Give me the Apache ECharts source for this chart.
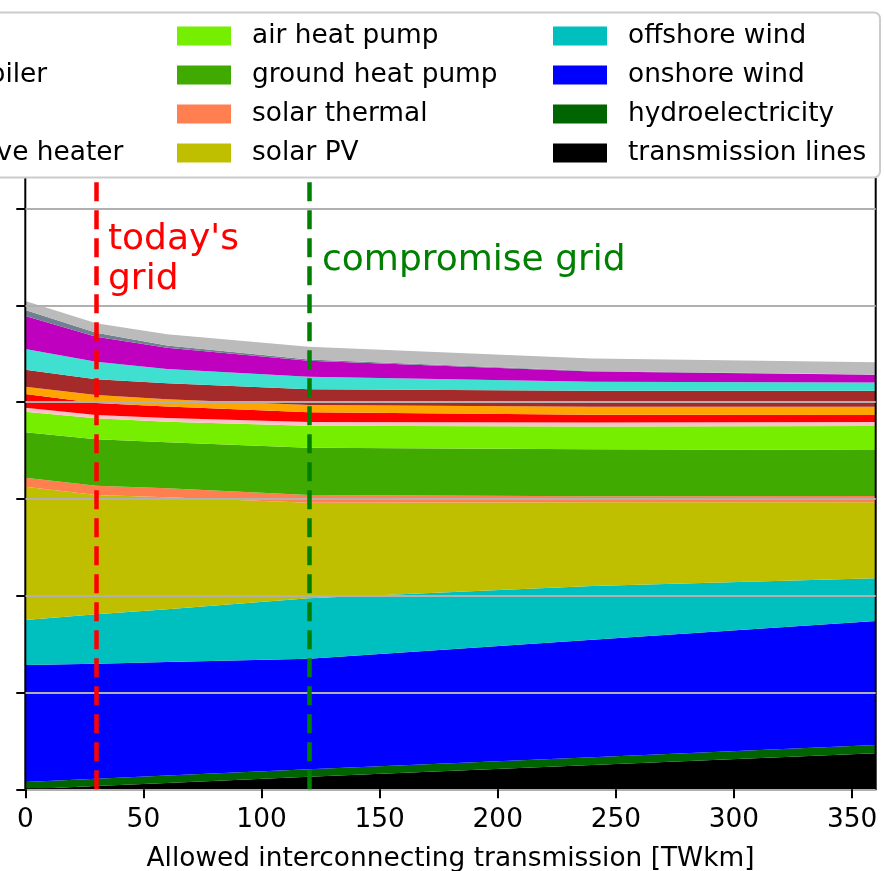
<!DOCTYPE html>
<html>
<head>
<meta charset="utf-8">
<script src="https://cdn.jsdelivr.net/npm/echarts@6/dist/echarts.min.js"></script>
<style>
html, body { margin: 0; padding: 0; background: #fff; }
#chart { width: 884px; height: 871px; }
</style>
</head>
<body>
<div id="chart"></div>
<script>
// Allowed interconnecting transmission [TWkm]
const xValues = [0, 30, 60, 120, 240, 360];
const xTickLabels = [0, 50, 100, 150, 200, 250, 300, 350];

// Stack, bottom to top
const transmissionLines = [0, 3.3, 6.5, 13, 25, 37.2];
const hydroelectricity  = [7.5, 7.6, 7.7, 7.7, 8.2, 8.6];
const onshoreWind       = [120.9, 118.9, 117.3, 114.2, 121.2, 128.1];
const offshoreWind      = [46.5, 51, 54.5, 62.4, 55.6, 44.1];
const solarPV           = [137.6, 123.2, 115.6, 98.7, 86.5, 78.5];
const solarThermal      = [9.4, 9.6, 9.4, 8, 6.3, 6.4];
const groundHeatPump    = [46.9, 48, 47.5, 48.9, 48.4, 47.7];
const airHeatPump       = [21.3, 21.7, 21.3, 22.6, 23.6, 24.7];
const resistiveHeater   = [4.1, 3.4, 3.8, 3.9, 4.1, 4.1];
const chp               = [14.2, 12.3, 11.9, 10.1, 8.1, 7.3];
const gasBoiler         = [7.5, 8.3, 7.5, 7.5, 8.2, 8.4];
const gas               = [17.6, 16.3, 16.4, 16.2, 16.6, 16.7];
const methanation       = [21.4, 18.1, 14.8, 13, 9.2, 8.4];
const hydrogenStorage   = [34, 25.9, 22, 16.4, 10.7, 8.1];
const batteryStorage    = [6.2, 4.1, 2.3, 1.4, 0.5, 0.3];
const waterTanks        = [9.3, 9.7, 11.5, 13.2, 12.8, 12.5];

const todaysGrid = 30;
const compromiseGrid = 120;

const stack = [
  ['transmission lines', transmissionLines, '#000000'],
  ['hydroelectricity', hydroelectricity, '#006400'],
  ['onshore wind', onshoreWind, '#0000FF'],
  ['offshore wind', offshoreWind, '#00BFBF'],
  ['solar PV', solarPV, '#BFBF00'],
  ['solar thermal', solarThermal, '#FF7F50'],
  ['ground heat pump', groundHeatPump, '#40AA00'],
  ['air heat pump', airHeatPump, '#76EE00'],
  ['resistive heater', resistiveHeater, '#FFC0CB'],
  ['CHP', chp, '#FF0000'],
  ['gas boiler', gasBoiler, '#FFA500'],
  ['gas', gas, '#A52A2A'],
  ['methanation', methanation, '#40E0D0'],
  ['hydrogen storage', hydrogenStorage, '#BF00BF'],
  ['battery storage', batteryStorage, '#708090'],
  ['water tanks', waterTanks, '#BBBBBB']
];

const FONT = 'DejaVu Sans';
const FS = 26.4;

// value first, x second, so that the library stacks the value dimension
const series = stack.map(([name, vals, color]) => ({
  name: name,
  type: 'line',
  stack: 'total',
  data: xValues.map((x, i) => [vals[i], x]),
  encode: { x: 1, y: 0 },
  symbol: 'none',
  showSymbol: false,
  smooth: false,
  lineStyle: { width: 0, color: color },
  itemStyle: { color: color },
  areaStyle: { color: color, opacity: 1 },
  z: 2,
  silent: true
}));

series.push({
  name: '_annot',
  type: 'line',
  data: [],
  symbol: 'none',
  z: 6,
  silent: true,
  markLine: {
    silent: true,
    symbol: ['none', 'none'],
    z: 6,
    label: { show: false },
    data: [
      { xAxis: todaysGrid, lineStyle: { color: '#FF0000', width: 4.5, type: [19, 9] } },
      { xAxis: compromiseGrid, lineStyle: { color: '#008000', width: 4.5, type: [19, 9] } }
    ]
  },
  markPoint: {
    silent: true,
    symbol: 'rect',
    symbolSize: [0.01, 0.01],
    itemStyle: { color: 'transparent' },
    z: 6,
    data: [
      { coord: [35, 547], label: { show: true, position: 'right', distance: 0, formatter: "today's\ngrid", color: '#FF0000', fontSize: 36, lineHeight: 40, fontFamily: FONT, align: 'left' } },
      { coord: [125.6, 546], label: { show: true, position: 'right', distance: 0, formatter: 'compromise grid', color: '#008000', fontSize: 36, lineHeight: 40, fontFamily: FONT, align: 'left' } }
    ]
  }
});

function legendCol(left, names) {
  return {
    show: true,
    orient: 'vertical',
    left: left,
    top: 23,
    padding: 0,
    itemGap: 13,
    itemWidth: 54,
    itemHeight: 19,
    icon: 'rect',
    selectedMode: false,
    z: 100,
    data: names,
    textStyle: { fontFamily: FONT, fontSize: FS, color: '#000', padding: [0, 0, 0, 16] }
  };
}

const option = {
  animation: false,
  backgroundColor: '#fff',
  grid: {
    left: 25.3, right: 8.3, top: 111.7, bottom: 81.7,
    containLabel: false,
    outerBoundsMode: 'none',
    show: true,
    borderColor: '#000',
    borderWidth: 2,
    backgroundColor: 'transparent',
    z: 3
  },
  legend: [
    legendCol(-157.5, ['gas', 'gas boiler', 'CHP', 'resistive heater']),
    legendCol(177, ['air heat pump', 'ground heat pump', 'solar thermal', 'solar PV']),
    legendCol(553, ['offshore wind', 'onshore wind', 'hydroelectricity', 'transmission lines'])
  ],
  graphic: [{
    type: 'rect',
    z: 50,
    shape: { x: -300, y: 12.5, width: 1180, height: 165, r: 6 },
    style: { fill: '#ffffff', stroke: '#cccccc', lineWidth: 2 },
    silent: true
  }],
  xAxis: {
    type: 'value',
    min: 0, max: 360, interval: 50,
    z: 3,
    name: 'Allowed interconnecting transmission [TWkm]',
    nameLocation: 'middle',
    nameGap: 57,
    nameTextStyle: { fontFamily: FONT, fontSize: FS, color: '#000' },
    axisLine: { show: false },
    axisTick: { show: true, length: 9, lineStyle: { color: '#000', width: 2 }, customValues: xTickLabels },
    axisLabel: { show: true, margin: 18, fontFamily: FONT, fontSize: FS, color: '#000', customValues: xTickLabels },
    splitLine: { show: false }
  },
  yAxis: {
    type: 'value',
    min: 0, max: 700, interval: 100,
    z: 3,
    axisLine: { show: false },
    axisTick: { show: true, length: 9, lineStyle: { color: '#000', width: 2 } },
    axisLabel: { show: false },
    splitLine: { show: true, lineStyle: { color: '#b0b0b0', width: 2 } }
  },
  series: series
};

const chart = echarts.init(document.getElementById('chart'), null, { renderer: 'canvas' });
chart.setOption(option);
</script>
</body>
</html>
